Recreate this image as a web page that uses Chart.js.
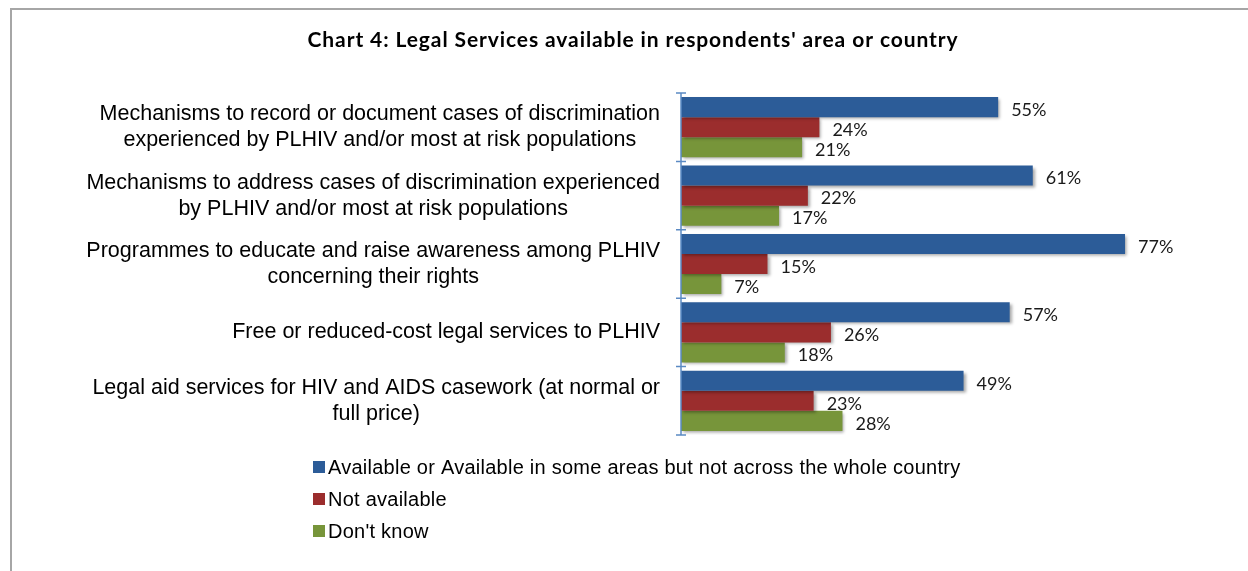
<!DOCTYPE html>
<html>
<head>
<meta charset="utf-8">
<script src="https://cdn.jsdelivr.net/npm/chart.js@4.4.1/dist/chart.umd.min.js"></script>
<style>
    html, body { margin: 0; padding: 0; background: #ffffff; overflow: hidden; }
    #wrap { position: relative; width: 1248px; height: 571px; }
    #frame { position: absolute; left: 10px; top: 8px; width: 1300px; height: 700px; border: 2px solid #a6a6a6; box-sizing: border-box; }
    #chart { position: absolute; left: 0; top: 0; }
</style>
</head>
<body>
<div id="wrap">
    <div id="frame"></div>
    <canvas id="chart" width="1248" height="571"></canvas>
</div>
<script>
// Chart data
const chartTitle = "Chart 4: Legal Services available in respondents' area or country";
const categories = [
    ['Mechanisms to record or document cases of discrimination', 'experienced by PLHIV and/or most at risk populations'],
    ['Mechanisms to address cases of discrimination experienced', 'by PLHIV and/or most at risk populations'],
    ['Programmes to educate and raise awareness among PLHIV', 'concerning their rights'],
    ['Free or reduced-cost legal services to PLHIV'],
    ['Legal aid services for HIV and AIDS casework (at normal or', 'full price)']
];
const seriesNames = [
    'Available or Available in some areas but not across the whole country',
    'Not available',
    "Don't know"
];
const available = [55, 61, 77, 57, 49];
const notAvailable = [24, 22, 15, 26, 23];
const dontKnow = [21, 17, 7, 18, 28];

const colors = ['#2c5c98', '#9b2d2d', '#77953a'];
const axisColor = '#5b8ac4';
const labelFont = '"Liberation Sans", Arial, sans-serif';
const valueFont = 'Lato, "Open Sans", sans-serif';

// Draws title, category labels, axis line, value labels and legend
const extrasPlugin = {
    id: 'extras',
    beforeDatasetsDraw(chart) {
        const ctx = chart.ctx;
        ctx.save();
        ctx.shadowColor = 'rgba(0, 0, 0, 0.35)';
        ctx.shadowOffsetX = 2;
        ctx.shadowOffsetY = 2;
        ctx.shadowBlur = 3;
    },
    afterDatasetsDraw(chart) {
        const ctx = chart.ctx;
        ctx.restore();

        const yScale = chart.scales.y;
        const area = chart.chartArea;
        const n = categories.length;
        const band = (yScale.bottom - yScale.top) / n;

        // axis line + tick marks between categories
        ctx.save();
        ctx.strokeStyle = axisColor;
        ctx.lineWidth = 1.5;
        ctx.beginPath();
        ctx.moveTo(area.left, yScale.top);
        ctx.lineTo(area.left, yScale.bottom);
        for (let i = 0; i <= n; i++) {
            const y = yScale.top + i * band;
            ctx.moveTo(area.left - 5, y);
            ctx.lineTo(area.left + 5, y);
        }
        ctx.stroke();
        ctx.restore();

        // category labels: block right aligned, lines centered in block
        ctx.save();
        ctx.font = '21.5px ' + labelFont;
        ctx.fillStyle = '#000000';
        ctx.textAlign = 'center';
        ctx.textBaseline = 'middle';
        const lineH = 26;
        categories.forEach((lines, i) => {
            const cy = yScale.getPixelForTick(i);
            const blockW = Math.max(...lines.map(l => ctx.measureText(l).width));
            const cx = area.left - 21 - blockW / 2;
            lines.forEach((line, j) => {
                const y = cy + (j - (lines.length - 1) / 2) * lineH;
                ctx.fillText(line, cx, y);
            });
        });
        ctx.restore();

        // value labels
        ctx.save();
        ctx.font = '18px ' + valueFont;
        ctx.fillStyle = '#1a1a1a';
        ctx.textAlign = 'left';
        ctx.textBaseline = 'middle';
        chart.data.datasets.forEach((ds, di) => {
            const meta = chart.getDatasetMeta(di);
            meta.data.forEach((bar, i) => {
                ctx.fillText(ds.data[i] + '%', bar.x + 13, bar.y + 3);
            });
        });
        ctx.restore();

        // title
        ctx.save();
        ctx.font = 'bold 21px ' + valueFont;
        ctx.letterSpacing = '0.9px';
        ctx.fillStyle = '#000000';
        ctx.textAlign = 'center';
        ctx.textBaseline = 'middle';
        ctx.fillText(chartTitle, 633, 40);
        ctx.restore();

        // legend
        ctx.save();
        ctx.font = '20px ' + labelFont;
        ctx.letterSpacing = '0.25px';
        ctx.textAlign = 'left';
        ctx.textBaseline = 'middle';
        chart.data.datasets.forEach((ds, di) => {
            const y = 468 + di * 32;
            ctx.fillStyle = ds.backgroundColor;
            ctx.fillRect(313, y - 7, 12, 12);
            ctx.fillStyle = '#000000';
            ctx.fillText(ds.label, 328, y);
        });
        ctx.restore();
    }
};

const config = {
    type: 'bar',
    data: {
        labels: categories,
        datasets: [
            { label: seriesNames[0], data: available, backgroundColor: colors[0] },
            { label: seriesNames[1], data: notAvailable, backgroundColor: colors[1] },
            { label: seriesNames[2], data: dontKnow, backgroundColor: colors[2] }
        ]
    },
    options: {
        indexAxis: 'y',
        responsive: false,
        animation: false,
        layout: {
            padding: { left: 0, top: 93, right: 48, bottom: 136 }
        },
        datasets: {
            bar: {
                categoryPercentage: 0.88,
                barPercentage: 1.0,
                borderWidth: 0
            }
        },
        plugins: {
            legend: { display: false },
            title: { display: false },
            tooltip: { enabled: false }
        },
        scales: {
            x: {
                display: false,
                min: 0,
                max: 90
            },
            y: {
                display: true,
                grid: { display: false },
                border: { display: false },
                ticks: { display: false },
                afterFit: function(scale) {
                    scale.width = 681;
                }
            }
        }
    },
    plugins: [extrasPlugin]
};

new Chart(document.getElementById('chart'), config);
</script>
</body>
</html>
